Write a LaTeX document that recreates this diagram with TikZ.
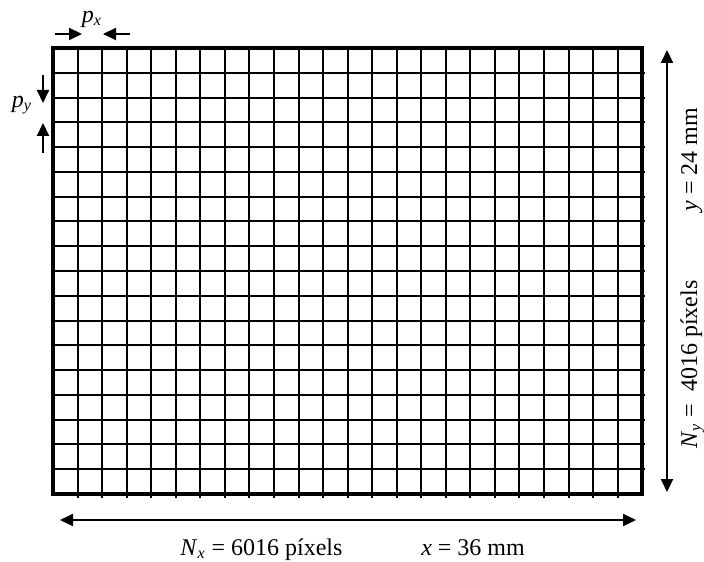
\documentclass[tikz,border=0pt]{standalone}
\usepackage{fontspec}
\setmainfont{Liberation Serif}
\usepackage{xcolor}
\definecolor{cInk}{HTML}{000000}
\usepackage{tikz}
\usetikzlibrary{positioning,arrows.meta}
\tikzset{
  grid-line/.style={draw=cInk,line width=1pt},
  grid-border/.style={draw=cInk,line width=2pt},
  arrow-dim/.style={-{Triangle[length=6.5pt,width=6pt]},line width=1pt,draw=cInk},
  arrow-span/.style={{Triangle[length=6.5pt,width=6pt]}-{Triangle[length=6.5pt,width=6pt]},
    line width=1pt,draw=cInk},
  label-text/.style={font=\fontsize{12}{14}\selectfont,inner sep=0pt,text=cInk},
}
\newcommand{\pixvar}[2]{\textit{#1}\textsubscript{\textit{#2}}}

\begin{document}
\begin{tikzpicture}[x=0.5pt,y=-0.5pt,node distance=39pt]
  \useasboundingbox (0,0) rectangle (704,561);
  % sensor corners
  \coordinate (tl) at (53,48);
  \coordinate (br) at (642,494);
  % pixel grid: 24 columns, 18 rows
  \foreach \i in {1,...,23}
    \draw[grid-line] ({53+round(\i*24.55)},48) -- ++(0,450);
  \foreach \j in {1,...,17}
    \draw[grid-line] (53,{48+round(\j*24.78)}) -- ++(592,0);
  \draw[grid-border] (tl) rectangle (br);
  % pitch marks
  \coordinate (px-a) at (55,34);
  \coordinate (px-b) at (82,34);
  \coordinate (px-c) at (130,34);
  \coordinate (px-d) at (103,34);
  \draw[arrow-dim] (px-a) -- (px-b);
  \draw[arrow-dim] (px-c) -- (px-d);
  \coordinate (py-a) at (43,75);
  \coordinate (py-b) at (43,103);
  \coordinate (py-c) at (43,153);
  \coordinate (py-d) at (43,123);
  \draw[arrow-dim] (py-a) -- (py-b);
  \draw[arrow-dim] (py-c) -- (py-d);
  \node[label-text] (px) at (92,19) {\pixvar{p}{x}};
  \node[label-text] (py) at (22,105) {\pixvar{p}{y}};
  % overall size
  \coordinate (w-a) at (60,520);
  \coordinate (w-b) at (636,520);
  \draw[arrow-span] (w-a) -- (w-b);
  \coordinate (h-a) at (667,50);
  \coordinate (h-b) at (667,492);
  \draw[arrow-span] (h-a) -- (h-b);
  \node[label-text,anchor=base west] (nx) at (180,555) {\pixvar{N}{x} = 6016 píxels};
  \node[label-text,base right=of nx] (wx) {\textit{x} = 36 mm};
  \node[label-text,anchor=base west,rotate=90] (ny) at (697,449) {\pixvar{N}{y} =\ \ 4016 píxels};
  \node[label-text,anchor=base west,rotate=90] (hy) at (697,212) {\textit{y} = 24 mm};
\end{tikzpicture}
\end{document}
